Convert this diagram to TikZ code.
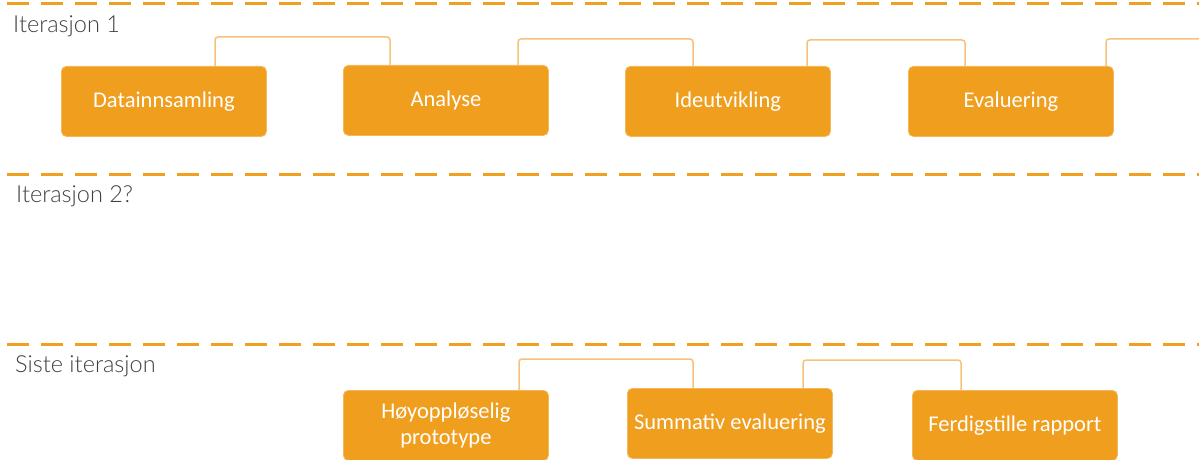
\documentclass[tikz,border=0pt]{standalone}
\usepackage{fontspec}
\setmainfont{Carlito}
\newfontfamily\boxfont{Carlito}
\newfontfamily\lblfont{Lato Light}
\definecolor{boxorange}{HTML}{F09E1E}
\definecolor{boxedge}{HTML}{F6B65A}
\definecolor{linkorange}{HTML}{F6C27A}
\definecolor{dashorange}{HTML}{F0A020}
\definecolor{lblgray}{HTML}{404040}
\begin{document}
\begin{tikzpicture}[x=1pt,y=-1pt,
  stepbox/.style={draw=boxedge,line width=0.8pt,fill=boxorange,rounded corners=5pt,
    minimum width=205pt,minimum height=70pt,anchor=north west,inner sep=0pt,
    text=white,font=\boxfont\fontsize{22.5}{26}\selectfont,align=center},
  conn/.style={draw=linkorange,line width=1.5pt,rounded corners=3pt},
  divider/.style={draw=dashorange,line width=3pt,dash pattern=on 22pt off 12pt},
  rowlabel/.style={anchor=base west,inner sep=0pt,text=lblgray,font=\lblfont\fontsize{23.5}{26}\selectfont}]
\useasboundingbox (0,0) rectangle (1199,460);
\clip (0,0) rectangle (1199,460);
% dividers
\coordinate (d1a) at (7,4);   \coordinate (d1b) at (1199,4);
\coordinate (d2a) at (7,174); \coordinate (d2b) at (1199,174);
\coordinate (d3a) at (7,344); \coordinate (d3b) at (1199,344);
\draw[divider] (d1a) -- (d1b);
\draw[divider] (d2a) -- (d2b);
\draw[divider] (d3a) -- (d3b);
% row labels
\node[rowlabel] (l1) at (13,33) {Iterasjon 1};
\node[rowlabel] (l2) at (16,202) {Iterasjon 2?};
\node[rowlabel] (l3) at (15,372) {Siste iterasjon};
% row 1
\node[stepbox] (data) at (61,66) {Datainnsamling};
\node[stepbox] (ana) at (343,65) {Analyse};
\node[stepbox] (ide) at (625,66) {Ideutvikling};
\node[stepbox] (eva) at (908,66) {Evaluering};
% row 3
\node[stepbox] (hoy) at (343,390) {Høyoppløselig\\prototype};
\node[stepbox] (sum) at (627,388) {Summativ evaluering};
\node[stepbox] (fer) at (912,390) {Ferdigstille rapport};
% connectors
\draw[conn] ([xshift=154pt]data.north west) |- ([xshift=47pt,yshift=28pt]ana.north west) -- ([xshift=47pt]ana.north west);
\draw[conn] ([xshift=175pt]ana.north west) |- ([xshift=68pt,yshift=27pt]ide.north west) -- ([xshift=68pt]ide.north west);
\draw[conn] ([xshift=182pt]ide.north west) |- ([xshift=57pt,yshift=26pt]eva.north west) -- ([xshift=57pt]eva.north west);
\coordinate (out) at (1199,39);
\draw[conn] ([xshift=198pt]eva.north west) |- (out);
\draw[conn] ([xshift=176pt]hoy.north west) |- ([xshift=66pt,yshift=29pt]sum.north west) -- ([xshift=66pt]sum.north west);
\draw[conn] ([xshift=176pt]sum.north west) |- ([xshift=49pt,yshift=30pt]fer.north west) -- ([xshift=49pt]fer.north west);
\end{tikzpicture}
\end{document}
